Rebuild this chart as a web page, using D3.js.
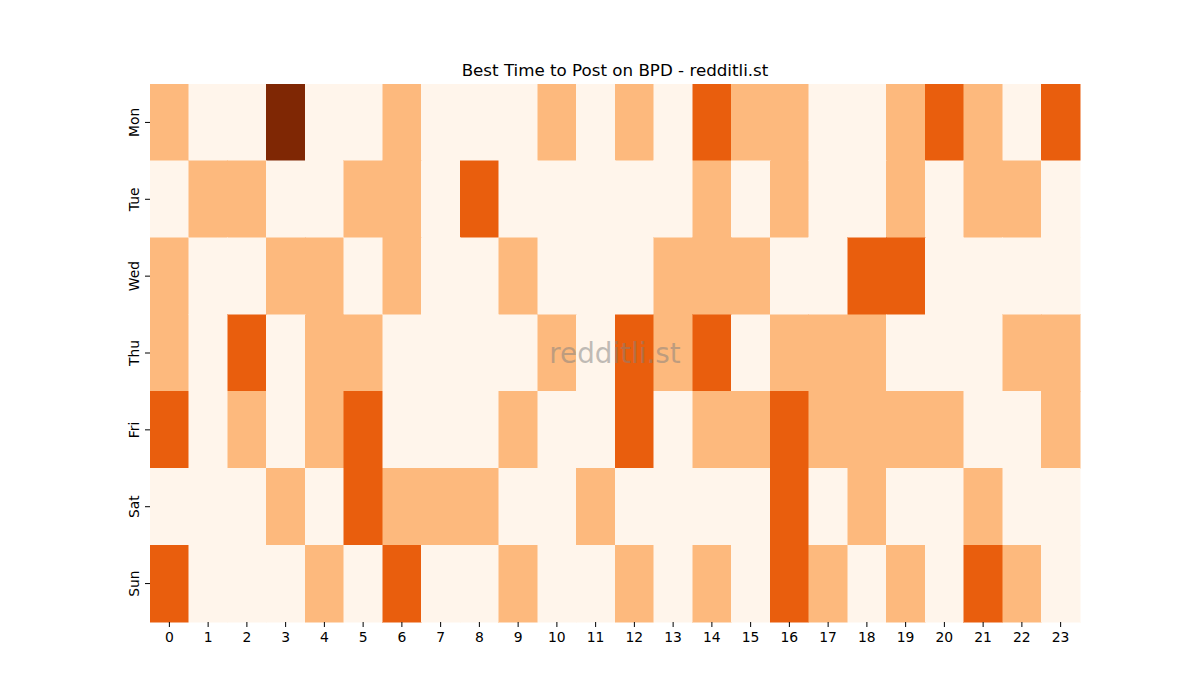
<!DOCTYPE html>
<html>
<head>
<meta charset="utf-8">
<script src="https://cdn.jsdelivr.net/npm/d3@7"></script>
<style>
  body { margin: 0; background: #fff; }
  svg text { font-family: "DejaVu Sans", sans-serif; }
</style>
</head>
<body>
<div id="chart"></div>
<script>
// hours along the x axis, days down the y axis
const hours = d3.range(24).map(String);
const days = ["Mon", "Tue", "Wed", "Thu", "Fri", "Sat", "Sun"];

// activity level per hour (0 = low ... 3 = best)
const mon = [1,0,0,3,0,0,1,0,0,0,1,0,1,0,2,1,1,0,0,1,2,1,0,2];
const tue = [0,1,1,0,0,1,1,0,2,0,0,0,0,0,1,0,1,0,0,1,0,1,1,0];
const wed = [1,0,0,1,1,0,1,0,0,1,0,0,0,1,1,1,0,0,2,2,0,0,0,0];
const thu = [1,0,2,0,1,1,0,0,0,0,1,0,2,1,2,0,1,1,1,0,0,0,1,1];
const fri = [2,0,1,0,1,2,0,0,0,1,0,0,2,0,1,1,2,1,1,1,1,0,0,1];
const sat = [0,0,0,1,0,2,1,1,1,0,0,1,0,0,0,0,2,0,1,0,0,1,0,0];
const sun = [2,0,0,0,1,0,2,0,0,1,0,0,1,0,1,0,2,1,0,1,0,2,1,0];
const rows = [mon, tue, wed, thu, fri, sat, sun];

const width = 1200, height = 700;
const margin = { top: 84, right: 120, bottom: 78, left: 150 };

const svg = d3.select("#chart").append("svg")
    .attr("width", width)
    .attr("height", height);

let x = d3.scaleBand()
    .domain(hours)
    .range([margin.left, width - margin.right]);

let y = d3.scaleBand()
    .domain(days)
    .range([margin.top, height - margin.bottom]);

// sampled matplotlib "Oranges" for levels 0..3
let color = d3.scaleOrdinal()
    .domain([0, 1, 2, 3])
    .range(["#fff5eb", "#fdb97d", "#e95e0d", "#7f2704"]);

let cells = [];
rows.forEach((r, i) => r.forEach((v, j) => cells.push({ day: days[i], hour: hours[j], value: v })));

svg.append("g")
    .attr("shape-rendering", "crispEdges")
    .selectAll("rect")
    .data(cells)
    .enter()
    .append("rect")
    .attr("x", d => x(d.hour))
    .attr("y", d => y(d.day))
    .attr("width", x.bandwidth())
    .attr("height", y.bandwidth())
    .attr("fill", d => color(d.value))
    .attr("stroke", d => color(d.value))
    .attr("stroke-width", 0.5);

// axes
let xAxis = svg.append("g")
    .attr("transform", `translate(0, ${height - margin.bottom})`)
    .call(d3.axisBottom(x).tickSize(5).tickPadding(5));

let yAxis = svg.append("g")
    .attr("transform", `translate(${margin.left}, 0)`)
    .call(d3.axisLeft(y).tickSize(5).tickPadding(4));

[xAxis, yAxis].forEach(a => {
    a.select(".domain").remove();
    a.selectAll(".tick line").attr("stroke", "#000").attr("stroke-width", 1);
    a.selectAll(".tick text").attr("fill", "#000").style("font-size", "13.9px");
});

yAxis.selectAll(".tick text")
    .attr("text-anchor", "middle")
    .attr("dy", "0")
    .attr("transform", "translate(-11, 0) rotate(-90)")
    .attr("x", 0);

// title
svg.append("text")
    .attr("x", (margin.left + width - margin.right) / 2)
    .attr("y", 76)
    .attr("text-anchor", "middle")
    .style("font-size", "16.7px")
    .text("Best Time to Post on BPD - redditli.st");

// watermark
svg.append("text")
    .attr("x", (margin.left + width - margin.right) / 2)
    .attr("y", (margin.top + height - margin.bottom) / 2)
    .attr("text-anchor", "middle")
    .attr("dominant-baseline", "central")
    .style("font-size", "27.8px")
    .attr("fill", "#808080")
    .attr("fill-opacity", 0.5)
    .text("redditli.st");
</script>
</body>
</html>
